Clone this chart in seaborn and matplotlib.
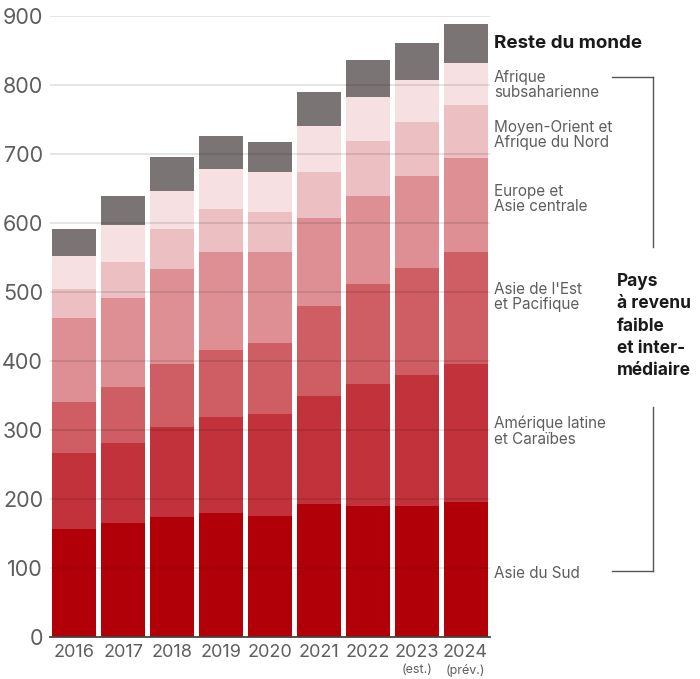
import numpy as np
import pandas as pd
import matplotlib
matplotlib.use("Agg")
import matplotlib.pyplot as plt
import seaborn as sns
from matplotlib.lines import Line2D

# values (stack order: bottom -> top)
years = ["2016", "2017", "2018", "2019", "2020", "2021", "2022", "2023", "2024"]
year_notes = ["", "", "", "", "", "", "", "(est.)", "(prév.)"]

asie_sud = [156, 165, 174, 180, 175, 193, 190, 190, 196]
amerique_latine = [111, 116, 131, 139, 148, 156, 177, 190, 200]
asie_est = [73, 81, 90, 97, 103, 131, 144, 155, 162]
europe_asie_centrale = [122, 129, 138, 142, 132, 127, 128, 133, 136]
moyen_orient = [42, 52, 59, 62, 58, 67, 80, 78, 77]
afrique_sub = [48, 54, 55, 58, 58, 67, 64, 61, 61]
reste_monde = [39, 42, 48, 48, 44, 49, 53, 54, 56]

series_names = ["Asie du Sud", "Amérique latine\net Caraïbes", "Asie de l'Est\net Pacifique",
                "Europe et\nAsie centrale", "Moyen-Orient et\nAfrique du Nord",
                "Afrique\nsubsaharienne", "Reste du monde"]
colors = ["#b10008", "#c2323a", "#cf5d64", "#de8f94", "#ecc0c3", "#f6e0e2", "#7a7574"]


def main():
    df = pd.DataFrame({
        "year": years,
        "s0": asie_sud, "s1": amerique_latine, "s2": asie_est, "s3": europe_asie_centrale,
        "s4": moyen_orient, "s5": afrique_sub, "s6": reste_monde,
    })
    cols = ["s0", "s1", "s2", "s3", "s4", "s5", "s6"]
    cum = df[cols].cumsum(axis=1)
    cum["year"] = df["year"]

    plt.rcParams["font.family"] = ["Inter", "DejaVu Sans"]
    fig = plt.figure(figsize=(7, 6.79), dpi=100)
    ax = fig.add_axes([50 / 700, 42 / 679, 440 / 700, 621 / 679])

    # stacked bars: draw cumulative totals from the top layer down
    for col, c in zip(cols[::-1], colors[::-1]):
        sns.barplot(data=cum, x="year", y=col, order=years, color=c, saturation=1,
                    width=0.9, linewidth=0, ax=ax)

    ax.set_ylim(0, 900)
    ax.set_xlim(-0.5, 8.5)
    ax.set_yticks(range(0, 1000, 100))
    for t in range(100, 1000, 100):
        ax.axhline(t, color="black", alpha=0.12, lw=1.2, zorder=5)

    for s in ["top", "right", "left"]:
        ax.spines[s].set_visible(False)
    ax.spines["bottom"].set_color("#444444")
    ax.spines["bottom"].set_linewidth(1.3)
    ax.spines["bottom"].set_zorder(6)
    ax.tick_params(length=0)
    ax.tick_params(axis="y", labelsize=15.5, labelcolor="#5e5e5e", pad=5)
    ax.tick_params(axis="x", labelsize=13, labelcolor="#5e5e5e", pad=5)
    ax.set_xlabel("")
    ax.set_ylabel("")

    for i, note in enumerate(year_notes):
        if note:
            ax.text(i, -39, note, ha="center", va="top", fontsize=9, color="#5e5e5e")

    # labels on the right
    fig.text(494 / 700, 1 - 44 / 679, "Reste du monde", fontsize=13.5, fontweight="bold",
             color="#1a1a1a", va="center", ha="left")
    label_y = [573, 431, 297, 199, 135, 85]
    for name, y in zip(series_names[:6], label_y):
        fig.text(494 / 700, 1 - y / 679, name, fontsize=11, color="#5e5e5e",
                 va="center", ha="left", linespacing=1.05)

    fig.text(617 / 700, 1 - 326 / 679, "Pays\nà revenu\nfaible\net inter-\nmédiaire",
             fontsize=12.5, fontweight="bold", color="#1a1a1a", va="center", ha="left",
             linespacing=1.42)

    # bracket
    def px(x, y):
        return x / 700, 1 - y / 679

    for (x1, y1), (x2, y2) in [((612, 77), (653, 77)), ((653, 77), (653, 247)),
                               ((653, 407), (653, 571)), ((612, 571), (653, 571))]:
        a, b = px(x1, y1)
        c, d = px(x2, y2)
        fig.add_artist(Line2D([a, c], [b, d], color="#555555", lw=1))

    fig.savefig("out.png", dpi=100)


if __name__ == "__main__":
    main()
